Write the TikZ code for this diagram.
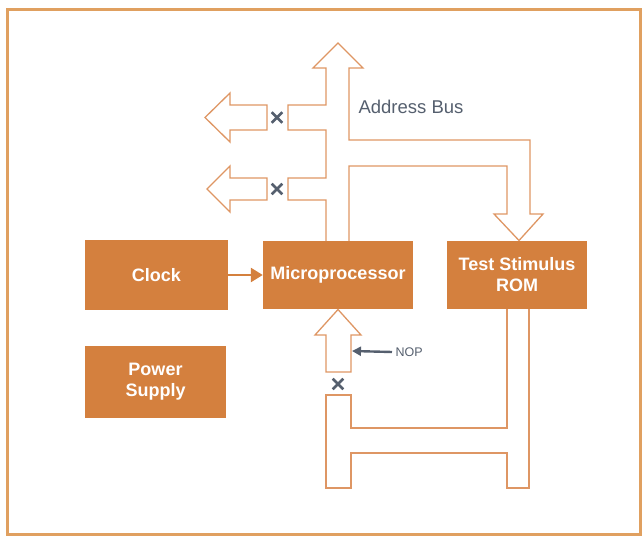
\documentclass[tikz,border=0pt]{standalone}
\usepackage{fontspec}
\setmainfont{Liberation Sans}
\usetikzlibrary{arrows.meta,shapes.misc}
\definecolor{boxorange}{RGB}{212,128,62}
\definecolor{busorange}{RGB}{222,150,100}
\definecolor{frameorange}{RGB}{224,160,96}
\definecolor{markgray}{RGB}{85,95,110}
\begin{document}
\begin{tikzpicture}
[x=1pt,y=-1pt,
 box/.style={rectangle,fill=boxorange,text=white,align=center,inner sep=0pt,
   font=\bfseries\fontsize{18}{21}\selectfont},
 bus/.style={draw=busorange,line width=1.3pt,line join=miter},
 cut/.style={cross out,draw=markgray,line width=2.6pt,minimum size=8pt,inner sep=0pt}]
\useasboundingbox (0,0) rectangle (642,538);
\draw[frameorange,line width=3pt] (7,9) rectangle (640,534);
\node[box,minimum width=143pt,minimum height=70pt] (clock) at (156.5,275) {Clock};
\node[box,minimum width=141pt,minimum height=72pt] (power) at (155.5,382) {Power\\Supply};
\node[box,minimum width=150pt,minimum height=68pt] (mp) at (338,275) {Microprocessor};
\node[box,minimum width=140pt,minimum height=68pt] (rom) at (517,275) {Test Stimulus\\ROM};
\node[text=markgray,anchor=west,font=\fontsize{18.5}{21}\selectfont] (abus) at (355,107) {Address Bus};
\node[text=markgray,anchor=west,font=\fontsize{12.5}{14}\selectfont] (nop) at (392,352) {NOP};
\coordinate (nopend) at (352,351);
\foreach \name/\pos in {cutA/{(277,117.5)},cutB/{(277,189)},cutC/{(338,384)}}
\node[cut] (\name) at \pos {};
\draw[boxorange,line width=2.5pt,-{Triangle[length=12pt,width=14pt]}] (clock) -- (mp);
\draw[markgray,line width=2.4pt,-{Triangle[length=9pt,width=9pt]}] (nop.west) -- (nopend);
\draw[bus] (326,241) -- (326,200) -- (288,200) -- (288,178) -- (326,178) -- (326,130)
  -- (288,130) -- (288,105) -- (326,105) -- (326,68) -- (313,68) -- (338,43) -- (363,68)
  -- (349,68) -- (349,140) -- (530,140) -- (530,214) -- (543,214) -- (519,240.5)
  -- (494,214) -- (507,214) -- (507,166) -- (349,166) -- (349,241);
\draw[bus] (267,105) -- (230,105) -- (230,93) -- (205,117.5) -- (230,142) -- (230,130) -- (267,130) -- cycle;
\draw[bus] (267,178) -- (230,178) -- (230,166) -- (207,189) -- (230,212) -- (230,200) -- (267,200) -- cycle;
\draw[bus] (326,372) -- (326,335) -- (315,335) -- (338,309.5) -- (361,335) -- (351,335) -- (351,372) -- cycle;
\draw[bus] (529,309) -- (529,488) -- (507,488) -- (507,453) -- (351,453) -- (351,488) -- (326,488)
  -- (326,395) -- (351,395) -- (351,428) -- (507,428) -- (507,309);
\end{tikzpicture}
\end{document}
